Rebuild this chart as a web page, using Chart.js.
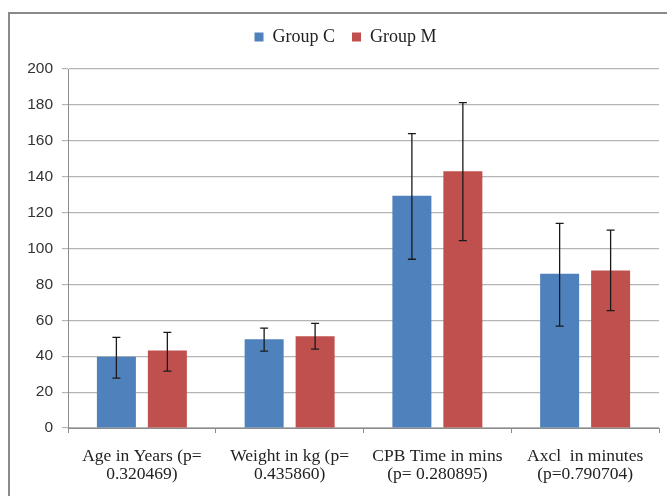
<!DOCTYPE html>
<html>
<head>
<meta charset="utf-8">
<script src="https://cdn.jsdelivr.net/npm/chart.js@4"></script>
<style>
  html, body { margin: 0; padding: 0; background: #fff; }
  #wrap { position: relative; width: 667px; height: 496px; overflow: hidden; }
  #frame { position: absolute; left: 8px; top: 12px; width: 700px; height: 600px;
           border-left: 2px solid #8a8a8a; border-top: 2px solid #8a8a8a; }
  canvas { position: absolute; left: 0; top: 0; }
</style>
</head>
<body>
<div id="wrap">
  <div id="frame"></div>
  <canvas id="chart" width="667" height="496"></canvas>
</div>
<script>
// datos
const categories = [
  ["Age in Years (p=", "0.320469)"],
  ["Weight in kg (p=", "0.435860)"],
  ["CPB Time in mins", "(p= 0.280895)"],
  ["Axcl  in minutes", "(p=0.790704)"]
];
const groupC = [39.7, 49.4, 129.4, 85.9];
const groupM = [43.2, 51.1, 143.1, 87.8];
// barras de error (límite superior / inferior)
const groupCHigh = [50.5, 55.6, 164.0, 114.0];
const groupCLow  = [27.8, 42.8, 94.0, 56.8];
const groupMHigh = [53.3, 58.3, 181.3, 110.2];
const groupMLow  = [31.7, 43.9, 104.4, 65.4];
const yTicks = [0, 20, 40, 60, 80, 100, 120, 140, 160, 180, 200];

const errorBars = {
  id: "errorBars",
  afterDatasetsDraw(chart) {
    const ctx = chart.ctx;
    const y = chart.scales.y;
    chart.data.datasets.forEach((ds, di) => {
      const meta = chart.getDatasetMeta(di);
      meta.data.forEach((bar, i) => {
        const top = y.getPixelForValue(ds.errHigh[i]);
        const bot = y.getPixelForValue(ds.errLow[i]);
        ctx.save();
        ctx.strokeStyle = "#1a1a1a";
        ctx.lineWidth = 1.3;
        ctx.beginPath();
        ctx.moveTo(bar.x, top); ctx.lineTo(bar.x, bot);
        ctx.moveTo(bar.x - 4, top); ctx.lineTo(bar.x + 4, top);
        ctx.moveTo(bar.x - 4, bot); ctx.lineTo(bar.x + 4, bot);
        ctx.stroke();
        ctx.restore();
      });
    });
  }
};

// espacio extra debajo de la leyenda y leyenda centrada sobre el área del gráfico
const legendMargin = {
  id: "legendMargin",
  beforeInit(chart) {
    const fit = chart.legend.fit;
    chart.legend.fit = function () {
      fit.bind(chart.legend)();
      this.height += 13;
    };
  },
  afterLayout(chart) {
    chart.legend.left += 11;
    chart.legend.right += 11;
  }
};

new Chart(document.getElementById("chart"), {
  type: "bar",
  data: {
    labels: categories,
    datasets: [
      {
        label: "Group C",
        data: groupC,
        errHigh: groupCHigh,
        errLow: groupCLow,
        backgroundColor: "#4F81BD",
        categoryPercentage: 0.69,
        barPercentage: 0.765
      },
      {
        label: "Group M",
        data: groupM,
        errHigh: groupMHigh,
        errLow: groupMLow,
        backgroundColor: "#C0504D",
        categoryPercentage: 0.69,
        barPercentage: 0.765
      }
    ]
  },
  options: {
    responsive: false,
    animation: false,
    layout: { padding: { top: 11, right: 8, left: 10, bottom: 0 } },
    plugins: {
      legend: {
        position: "top",
        labels: {
          boxWidth: 9,
          boxHeight: 9,
          padding: 17,
          color: "#222",
          font: { family: "Liberation Serif", size: 18 }
        }
      },
      tooltip: { enabled: false }
    },
    scales: {
      x: {
        grid: {
          offset: true,
          drawOnChartArea: false,
          drawTicks: true,
          tickLength: 5,
          color: "#8c8c8c"
        },
        border: { color: "#8c8c8c" },
        ticks: {
          color: "#222",
          padding: 14,
          maxRotation: 0,
          font: { family: "Liberation Serif", size: 17.5, lineHeight: 1.05 }
        },
        afterFit(scale) { scale.height = 68; }
      },
      y: {
        min: 0,
        max: 200,
        afterBuildTicks(scale) { scale.ticks = yTicks.map(v => ({ value: v })); },
        grid: { color: "#b5b5b5", tickLength: 6, lineWidth: 1.2 },
        border: { color: "#8c8c8c" },
        ticks: {
          color: "#333",
          padding: 9,
          font: { family: "Liberation Sans", size: 15.5 }
        },
        afterFit(scale) { scale.width = 58; }
      }
    }
  },
  plugins: [errorBars, legendMargin]
});
</script>
</body>
</html>
